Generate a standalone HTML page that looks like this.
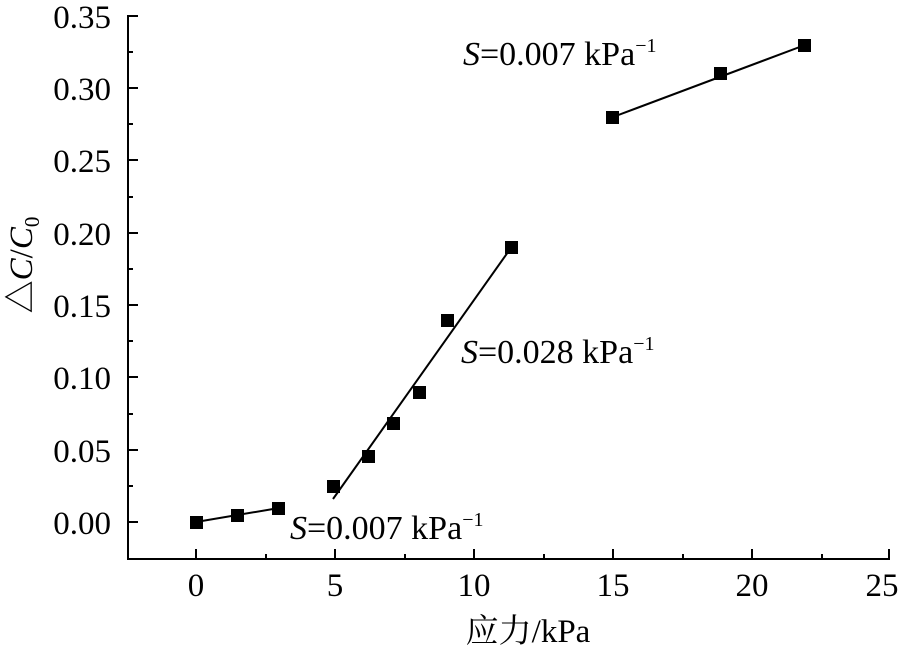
<!DOCTYPE html>
<html><head><meta charset="utf-8"><style>body{margin:0;background:#fff}svg{display:block}</style></head><body>
<svg width="900" height="653" viewBox="0 0 900 653" xmlns="http://www.w3.org/2000/svg" font-family="Liberation Serif, Noto Serif CJK SC, serif" font-size="33">
<rect width="900" height="653" fill="#fff"/>
<g stroke="#000" stroke-width="2" fill="none">
<line x1="128" y1="15" x2="128" y2="560"/>
<line x1="127" y1="559" x2="890" y2="559"/>
<path d="M128 16h10M128 52h5M128 88h10M128 124h5M128 160h10M128 197h5M128 233h10M128 269h5M128 305h10M128 341h5M128 377h10M128 414h5M128 450h10M128 486h5M128 522h10"/>
<path d="M196 559v-10M266 559v-5M335 559v-10M405 559v-5M474 559v-10M544 559v-5M613 559v-10M683 559v-5M752 559v-10M822 559v-5M889 559v-10"/>
<line x1="196" y1="522" x2="279" y2="508"/>
<line x1="333" y1="499" x2="513" y2="245"/>
<line x1="613" y1="117" x2="805" y2="45"/>
</g>
<g fill="#000">
<rect x="190" y="516" width="13" height="13"/>
<rect x="231" y="509" width="13" height="13"/>
<rect x="272" y="502" width="13" height="13"/>
<rect x="327" y="480" width="13" height="13"/>
<rect x="362" y="450" width="13" height="13"/>
<rect x="387" y="417" width="13" height="13"/>
<rect x="413" y="386" width="13" height="13"/>
<rect x="441" y="314" width="13" height="13"/>
<rect x="505" y="241" width="13" height="13"/>
<rect x="606" y="111" width="13" height="13"/>
<rect x="714" y="67" width="13" height="13"/>
<rect x="798" y="39" width="13" height="13"/>
</g>
<g text-anchor="end">
<text x="111" y="28">0.35</text>
<text x="111" y="100">0.30</text>
<text x="111" y="172">0.25</text>
<text x="111" y="245">0.20</text>
<text x="111" y="317">0.15</text>
<text x="111" y="389">0.10</text>
<text x="111" y="462">0.05</text>
<text x="111" y="534">0.00</text>
</g>
<g text-anchor="middle">
<text x="196" y="596">0</text>
<text x="335" y="596">5</text>
<text x="474" y="596">10</text>
<text x="613" y="596">15</text>
<text x="752" y="596">20</text>
<text x="882" y="596">25</text>
<text x="528" y="642">应力/kPa</text>
</g>
<text transform="translate(32,265) rotate(-90)" text-anchor="middle">△<tspan font-style="italic">C</tspan>/<tspan font-style="italic">C</tspan><tspan font-size="21" dy="7">0</tspan></text>
<text x="463" y="65" font-size="34"><tspan font-style="italic">S</tspan>=0.007 kPa<tspan font-size="20" dy="-13">−1</tspan></text>
<text x="461" y="363" font-size="34"><tspan font-style="italic">S</tspan>=0.028 kPa<tspan font-size="20" dy="-13">−1</tspan></text>
<text x="290" y="539" font-size="34"><tspan font-style="italic">S</tspan>=0.007 kPa<tspan font-size="20" dy="-13">−1</tspan></text>
</svg>
</body></html>
